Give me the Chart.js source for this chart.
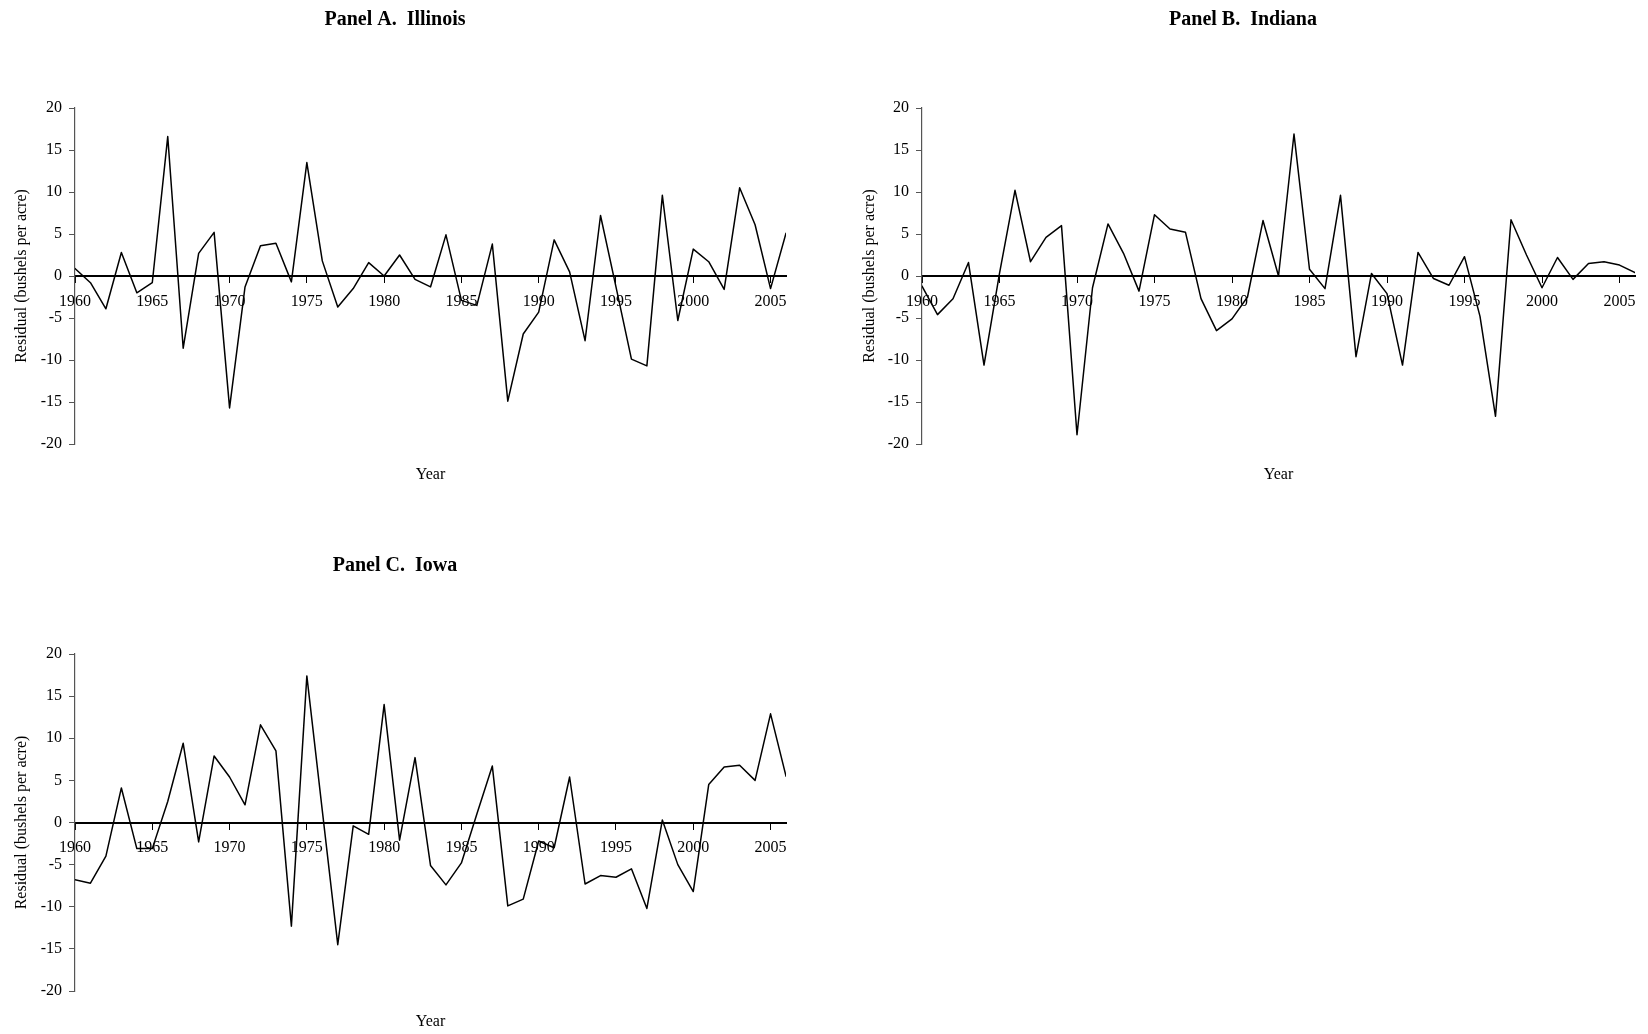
<!DOCTYPE html>
<html>
<head>
<meta charset="utf-8">
<script src="https://cdn.jsdelivr.net/npm/chart.js@4.4.1/dist/chart.umd.min.js"></script>
<style>
html,body{margin:0;padding:0;background:#fff;}
body{width:1648px;height:1034px;overflow:hidden;position:relative;}
canvas{position:absolute;display:block;}
</style>
</head>
<body>
<canvas id="cA" width="824" height="517" style="left:0px;top:0px;"></canvas>
<canvas id="cB" width="800" height="517" style="left:848px;top:0px;"></canvas>
<canvas id="cC" width="824" height="517" style="left:0px;top:517px;"></canvas>
<script>
// ---------------- data ----------------
const years = [1960,1961,1962,1963,1964,1965,1966,1967,1968,1969,
               1970,1971,1972,1973,1974,1975,1976,1977,1978,1979,
               1980,1981,1982,1983,1984,1985,1986,1987,1988,1989,
               1990,1991,1992,1993,1994,1995,1996,1997,1998,1999,
               2000,2001,2002,2003,2004,2005,2006];

const illinois = [0.9,-0.8,-3.9,2.8,-2.0,-0.8,16.6,-8.6,2.7,5.2,
                  -15.7,-1.3,3.6,3.9,-0.7,13.5,1.8,-3.7,-1.5,1.6,
                  0.0,2.5,-0.4,-1.3,4.9,-2.9,-3.5,3.8,-14.9,-6.9,
                  -4.3,4.3,0.5,-7.7,7.2,-1.3,-9.9,-10.7,9.6,-5.3,
                  3.2,1.7,-1.6,10.5,6.1,-1.5,5.1];

const indiana = [-1.2,-4.6,-2.7,1.6,-10.6,0.3,10.2,1.7,4.6,6.0,
                 -18.9,-1.4,6.2,2.7,-1.8,7.3,5.6,5.2,-2.7,-6.5,
                 -5.1,-2.5,6.6,0.0,16.9,0.8,-1.5,9.6,-9.6,0.3,
                 -2.1,-10.6,2.8,-0.3,-1.1,2.3,-4.8,-16.7,6.7,2.5,
                 -1.4,2.2,-0.4,1.5,1.7,1.3,0.4];

const iowa = [-6.8,-7.2,-4.0,4.1,-3.1,-3.1,2.5,9.4,-2.3,7.9,
              5.4,2.1,11.6,8.5,-12.3,17.4,1.4,-14.5,-0.4,-1.4,
              14.0,-2.1,7.7,-5.1,-7.4,-4.8,1.0,6.7,-9.9,-9.1,
              -2.2,-3.0,5.4,-7.3,-6.3,-6.5,-5.5,-10.2,0.3,-5.0,
              -8.2,4.5,6.6,6.8,5.0,12.9,5.5];

const xTickYears = [1960,1965,1970,1975,1980,1985,1990,1995,2000,2005];
const yTickValues = [-20,-15,-10,-5,0,5,10,15,20];
const panelTitles = ['Panel A.  Illinois','Panel B.  Indiana','Panel C.  Iowa'];
const xAxisTitle = 'Year';
const yAxisTitle = 'Residual (bushels per acre)';

// ---------------- chart ----------------
const FAMILY = '"Liberation Serif", "Times New Roman", Times, serif';
Chart.defaults.font.family = FAMILY;
Chart.defaults.color = '#000';

const textPlugin = {
  id: 'panelText',
  afterDraw(chart, args, opts) {
    const ctx = chart.ctx, a = chart.chartArea;
    const cx = (a.left + a.right) / 2;
    ctx.save();
    ctx.fillStyle = '#000';
    ctx.textAlign = 'center';
    ctx.textBaseline = 'middle';
    ctx.font = 'bold 20px ' + FAMILY;
    ctx.fillText(opts.title, cx - 35.5, a.top - 88);
    ctx.font = '16px ' + FAMILY;
    ctx.fillText(opts.xTitle, cx, a.bottom + 31);
    ctx.restore();
  }
};

function makePanel(canvasId, values, title, layout) {
  const pts = years.map((yr, i) => ({x: yr, y: values[i]}));
  return new Chart(document.getElementById(canvasId), {
    type: 'line',
    data: {
      datasets: [{
        data: pts,
        borderColor: '#000',
        borderWidth: 1.5,
        borderJoinStyle: 'round',
        borderCapStyle: 'round',
        pointRadius: 0,
        pointHoverRadius: 0,
        tension: 0,
        fill: false
      }]
    },
    options: {
      responsive: false,
      animation: false,
      devicePixelRatio: 1,
      layout: {padding: {left: 0, top: layout.top, right: layout.right, bottom: layout.bottom}},
      plugins: {
        legend: {display: false},
        tooltip: {enabled: false},
        title: {display: false},
        panelText: {title: title, xTitle: xAxisTitle}
      },
      scales: {
        x: {
          type: 'linear',
          min: years[0],
          max: years[years.length - 1],
          position: {y: 0},
          afterBuildTicks: (s) => { s.ticks = xTickYears.map(v => ({value: v})); },
          grid: {display: true, drawOnChartArea: false, drawTicks: true, tickLength: 6, color: '#000', lineWidth: 1},
          border: {display: true, color: '#000', width: 2},
          ticks: {font: {size: 16}, color: '#000', padding: 10, autoSkip: false, maxRotation: 0, minRotation: 0,
                  callback: (v) => String(v)}
        },
        y: {
          type: 'linear',
          position: 'left',
          min: -20,
          max: 20,
          afterBuildTicks: (s) => { s.ticks = yTickValues.map(v => ({value: v})); },
          afterFit: (s) => { s.width = layout.yWidth; },
          grid: {display: true, drawOnChartArea: false, drawTicks: true, tickLength: 6, color: '#555', lineWidth: 1},
          border: {display: true, color: '#555', width: 1.2},
          ticks: {font: {size: 16}, color: '#000', padding: 7, callback: (v) => String(v)},
          title: {display: true, text: yAxisTitle, font: {size: 16}, color: '#000', padding: {top: 12, bottom: 0}}
        }
      }
    },
    plugins: [textPlugin]
  });
}

makePanel('cA', illinois, panelTitles[0], {top: 108, bottom: 73, right: 38, yWidth: 75});
makePanel('cB', indiana,  panelTitles[1], {top: 108, bottom: 73, right: 13, yWidth: 74});
makePanel('cC', iowa,     panelTitles[2], {top: 137, bottom: 43, right: 38, yWidth: 75});
</script>
</body>
</html>
